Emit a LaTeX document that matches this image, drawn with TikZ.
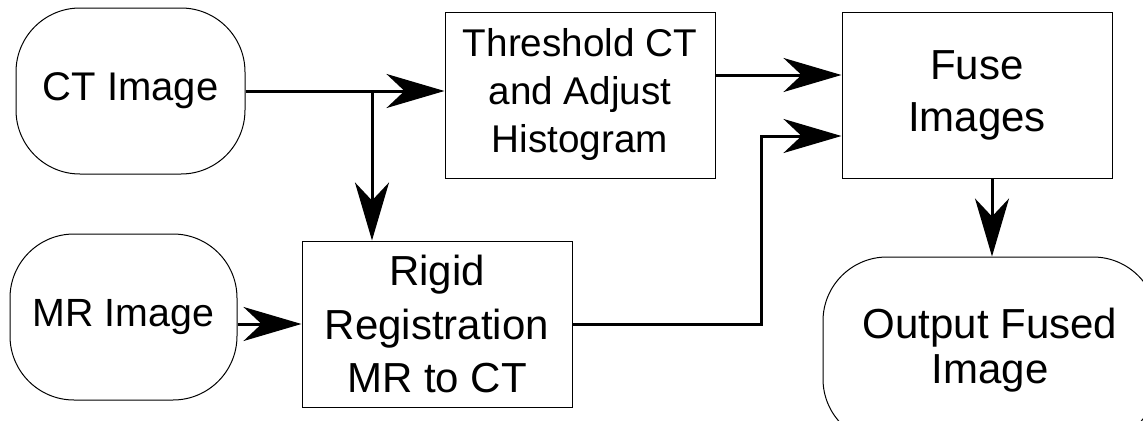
\documentclass[tikz,border=0pt]{standalone}
\usepackage{fontspec}
\setmainfont{Liberation Sans}
\usetikzlibrary{arrows.meta,calc}
\begin{document}
\begin{tikzpicture}[x=0.75pt,y=-0.75pt,
  box/.style={draw=black,line width=0.75pt,inner sep=0pt,align=center,
    minimum width=202.5pt,minimum height=124.5pt},
  rbox/.style={box,rounded corners=48pt},
  arr/.style={line width=2.25pt,-{Stealth[length=43.5pt,width=25.5pt,inset=13.5pt]}}]
\useasboundingbox (0,0) rectangle (1143,421);
\node[rbox,minimum width=171.75pt,font=\fontsize{30pt}{36pt}\selectfont] (ct) at (130.5,91) {CT Image};
\node[rbox,minimum width=170.25pt,font=\fontsize{29.5pt}{35pt}\selectfont] (mr) at (123.5,317) {MR Image};
\node[box,font=\fontsize{29pt}{36pt}\selectfont] (thr) at (580,95) {Threshold CT\\and Adjust\\Histogram};
\node[box,font=\fontsize{31.5pt}{39pt}\selectfont] (fuse) at (977,95) {Fuse\\Images};
\node[box,font=\fontsize{31.5pt}{40pt}\selectfont] (rig) at (437,324) {Rigid\\Registration\\MR to CT};
\node[rbox,minimum width=250.5pt,minimum height=139.5pt,font=\fontsize{31.5pt}{34pt}\selectfont] (out) at (990,350) {Output Fused\\Image};
\coordinate (br) at (372,91);
\coordinate (fa) at ($(fuse.west)+(0,-20)$);
\coordinate (fb) at ($(fuse.west)+(0,41)$);
\coordinate (fo) at ($(fuse.south)+(15,0)$);
\draw[arr] (ct.east) -- (thr.west |- ct.east);
\draw[arr] (br) -- (br |- rig.north);
\draw[arr] (mr.east |- rig.west) -- (rig.west);
\draw[arr] (thr.east |- fa) -- (fa);
\draw[arr] (rig.east) -| ($(fb)+(-80,0)$) -- (fb);
\draw[arr] (fo) -- (fo |- out.north);
\end{tikzpicture}
\end{document}
